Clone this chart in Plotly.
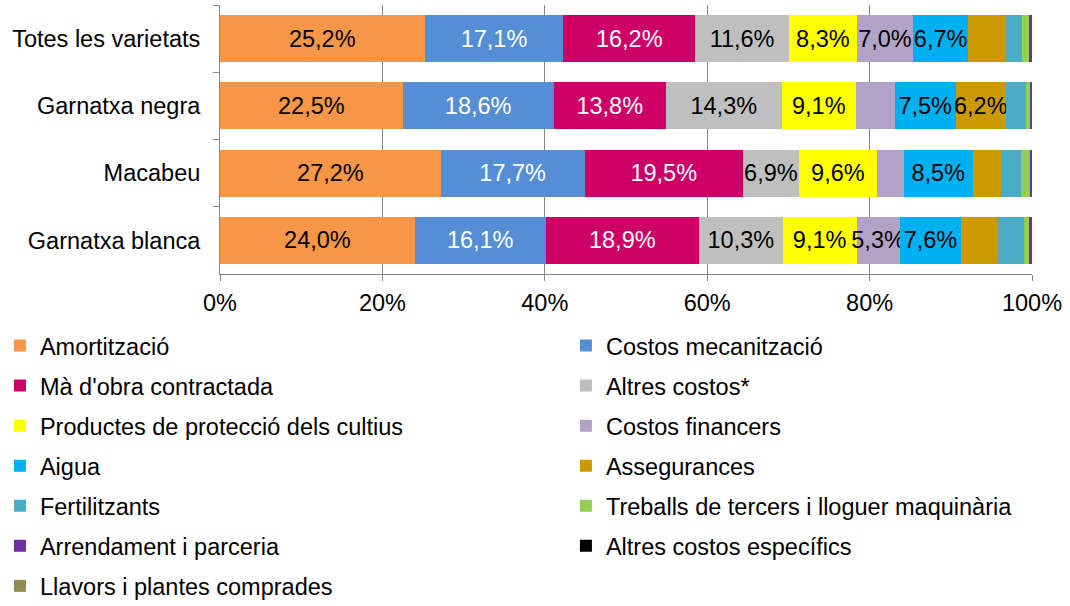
import plotly.graph_objects as go

categories = ["Totes les varietats", "Garnatxa negra", "Macabeu", "Garnatxa blanca"]

series_names = [
    "Amortització", "Costos mecanització", "Mà d'obra contractada", "Altres costos*",
    "Productes de protecció dels cultius", "Costos financers", "Aigua", "Assegurances",
    "Fertilitzants", "Treballs de tercers i lloguer maquinària", "Arrendament i parceria",
    "Altres costos específics", "Llavors i plantes comprades",
]

amortitzacio = [25.2, 22.5, 27.2, 24.0]
costos_mecanitzacio = [17.1, 18.6, 17.7, 16.1]
ma_obra = [16.2, 13.8, 19.5, 18.9]
altres_costos = [11.6, 14.3, 6.9, 10.3]
productes = [8.3, 9.1, 9.6, 9.1]
costos_financers = [7.0, 4.8, 3.3, 5.3]
aigua = [6.7, 7.5, 8.5, 7.6]
assegurances = [4.6, 6.2, 3.5, 4.4]
fertilitzants = [2.1, 2.5, 2.4, 3.3]
treballs = [0.8, 0.4, 1.2, 0.6]
arrendament = [0.4, 0.3, 0.2, 0.4]
altres_especifics = [0.0, 0.0, 0.0, 0.0]
llavors = [0.0, 0.0, 0.0, 0.0]

values = [amortitzacio, costos_mecanitzacio, ma_obra, altres_costos, productes,
          costos_financers, aigua, assegurances, fertilitzants, treballs,
          arrendament, altres_especifics, llavors]

colors = ["#F79646", "#558ED5", "#CC0066", "#BFBFBF", "#FFFF00", "#B3A2C7", "#00B0F0",
          "#CC9900", "#4BACC6", "#92D050", "#7030A0", "#000000", "#948A54"]
text_colors = ["black", "white", "white", "black", "black", "black", "black",
               "black", "black", "black", "white", "white", "white"]

xticks = [0, 20, 40, 60, 80, 100]
xtick_labels = ["0%", "20%", "40%", "60%", "80%", "100%"]

FONT = "Liberation Sans, Arial, sans-serif"
FS = 23.5

def fmt(v):
    return (f"{v:.1f}".replace(".", ",") + "%") if v >= 5 else ""

fig = go.Figure()
for i, (name, vals) in enumerate(zip(series_names, values)):
    fig.add_trace(go.Bar(
        name=name, y=categories, x=vals, orientation="h",
        marker=dict(color=colors[i], line=dict(width=0)),
        text=[fmt(v) for v in vals], texttemplate="%{text}",
        textposition="inside", insidetextanchor="middle", textangle=0,
        constraintext="none", cliponaxis=False,
        textfont=dict(color=text_colors[i], size=FS, family=FONT),
        legend="legend" if i % 2 == 0 else "legend2",
        legendgroup=f"g{i}",
        hoverinfo="skip",
    ))

legend_common = dict(
    orientation="v", traceorder="grouped", tracegroupgap=6.5,
    font=dict(size=FS, family=FONT, color="black"),
    bgcolor="rgba(0,0,0,0)", borderwidth=0,
    xanchor="left", yanchor="top", yref="paper", xref="paper",
    maxheight=1.0,
)

fig.update_layout(
    width=1070, height=606,
    margin=dict(l=220, r=38, t=5, b=332, autoexpand=False),
    paper_bgcolor="white", plot_bgcolor="white",
    barmode="stack", bargap=0.3,
    font=dict(family=FONT, size=FS, color="black"),
    showlegend=True,
    legend=dict(x=-0.271, y=-0.185, **legend_common),
    legend2=dict(x=0.426, y=-0.185, **legend_common),
)

fig.update_xaxes(
    range=[0, 100], tickvals=xticks, ticktext=xtick_labels,
    showgrid=True, gridcolor="#868686", gridwidth=1,
    showline=True, linecolor="#868686", linewidth=1,
    ticks="outside", ticklen=6, tickcolor="#868686", ticklabelstandoff=2,
    tickfont=dict(size=FS, family=FONT, color="black"),
    zeroline=False, fixedrange=True, automargin=False,
)
fig.update_yaxes(
    autorange="reversed", type="category",
    showline=True, linecolor="#868686", linewidth=1,
    ticks="outside", ticklen=6, tickcolor="#868686", tickson="boundaries",
    ticklabelstandoff=14,
    tickfont=dict(size=FS, family=FONT, color="black"),
    showgrid=False, fixedrange=True, automargin=False,
)

fig.write_html("out.html", config={"displayModeBar": False, "staticPlot": True})

# remove default body margin so the figure sits at the page origin
with open("out.html", "r", encoding="utf-8") as f:
    html = f.read()
html = html.replace("<body>", '<body style="margin:0;padding:0;">', 1)
with open("out.html", "w", encoding="utf-8") as f:
    f.write(html)
